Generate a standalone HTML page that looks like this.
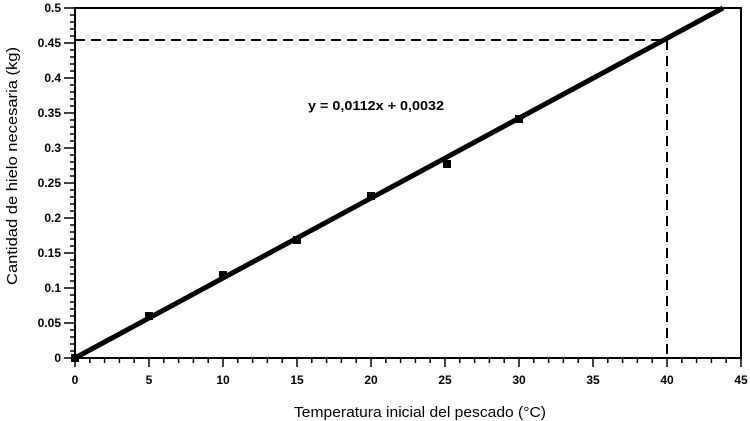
<!DOCTYPE html>
<html><head><meta charset="utf-8"><style>
html,body{margin:0;padding:0;background:#fff;}
svg{display:block;}
text{font-family:"Liberation Sans","DejaVu Sans",sans-serif;fill:#000;}
.t{font-size:12px;font-weight:bold;}
</style></head><body>
<svg width="750" height="421" xmlns="http://www.w3.org/2000/svg">
<g stroke="#000" stroke-width="2" fill="none">
<rect x="75" y="8" width="666" height="350"/>
</g>
<g stroke="#000" stroke-width="1.5">
<path d="
M64 8H75M64 43H75M64 78H75M64 113H75M64 148H75M64 183H75M64 218H75M64 253H75M64 288H75M64 323H75M64 358H75
M70 15H75M70 22H75M70 29H75M70 36H75
M70 50H75M70 57H75M70 64H75M70 71H75
M70 85H75M70 92H75M70 99H75M70 106H75
M70 120H75M70 127H75M70 134H75M70 141H75
M70 155H75M70 162H75M70 169H75M70 176H75
M70 190H75M70 197H75M70 204H75M70 211H75
M70 225H75M70 232H75M70 239H75M70 246H75
M70 260H75M70 267H75M70 274H75M70 281H75
M70 295H75M70 302H75M70 309H75M70 316H75
M70 330H75M70 337H75M70 344H75M70 351H75
"/>
<path d="
M75 358V367M149 358V367M223 358V367M297 358V367M371 358V367M445 358V367M519 358V367M593 358V367M667 358V367M741 358V367
M89.8 358V363M104.6 358V363M119.4 358V363M134.2 358V363
M163.8 358V363M178.6 358V363M193.4 358V363M208.2 358V363
M237.8 358V363M252.6 358V363M267.4 358V363M282.2 358V363
M311.8 358V363M326.6 358V363M341.4 358V363M356.2 358V363
M385.8 358V363M400.6 358V363M415.4 358V363M430.2 358V363
M459.8 358V363M474.6 358V363M489.4 358V363M504.2 358V363
M533.8 358V363M548.6 358V363M563.4 358V363M578.2 358V363
M607.8 358V363M622.6 358V363M637.4 358V363M652.2 358V363
M681.8 358V363M696.6 358V363M711.4 358V363M726.2 358V363
"/>
</g>
<g text-anchor="end">
<text x="61" y="12" class="t">0.5</text>
<text x="61" y="47" class="t">0.45</text>
<text x="61" y="82" class="t">0.4</text>
<text x="61" y="117" class="t">0.35</text>
<text x="61" y="152" class="t">0.3</text>
<text x="61" y="187" class="t">0.25</text>
<text x="61" y="222" class="t">0.2</text>
<text x="61" y="257" class="t">0.15</text>
<text x="61" y="292" class="t">0.1</text>
<text x="61" y="327" class="t">0.05</text>
<text x="61" y="362" class="t">0</text>
</g>
<g text-anchor="middle">
<text x="75" y="384" class="t">0</text>
<text x="149" y="384" class="t">5</text>
<text x="223" y="384" class="t">10</text>
<text x="297" y="384" class="t">15</text>
<text x="371" y="384" class="t">20</text>
<text x="445" y="384" class="t">25</text>
<text x="519" y="384" class="t">30</text>
<text x="593" y="384" class="t">35</text>
<text x="667" y="384" class="t">40</text>
<text x="741" y="384" class="t">45</text>
</g>
<path d="M75 40H667V358" stroke="#000" stroke-width="2" fill="none" stroke-dasharray="10,6"/>
<line x1="75" y1="358" x2="723" y2="8" stroke="#000" stroke-width="5"/>
<g fill="#000">
<rect x="71" y="354" width="8" height="8"/>
<rect x="145" y="312" width="8" height="8"/>
<rect x="219" y="271" width="8" height="8"/>
<rect x="293" y="236" width="8" height="8"/>
<rect x="367" y="192" width="8" height="8"/>
<rect x="443" y="160" width="8" height="8"/>
<rect x="515" y="115" width="8" height="8"/>
</g>
<text x="308" y="110" textLength="136" lengthAdjust="spacingAndGlyphs" style="font-size:13px;font-weight:bold">y = 0,0112x + 0,0032</text>
<text x="420" y="417" text-anchor="middle" textLength="252" lengthAdjust="spacingAndGlyphs" style="font-size:15px">Temperatura inicial del pescado (°C)</text>
<text transform="translate(17,166) rotate(-90)" text-anchor="middle" textLength="238" lengthAdjust="spacingAndGlyphs" style="font-size:15px">Cantidad de hielo necesaria (kg)</text>
</svg>
</body></html>
